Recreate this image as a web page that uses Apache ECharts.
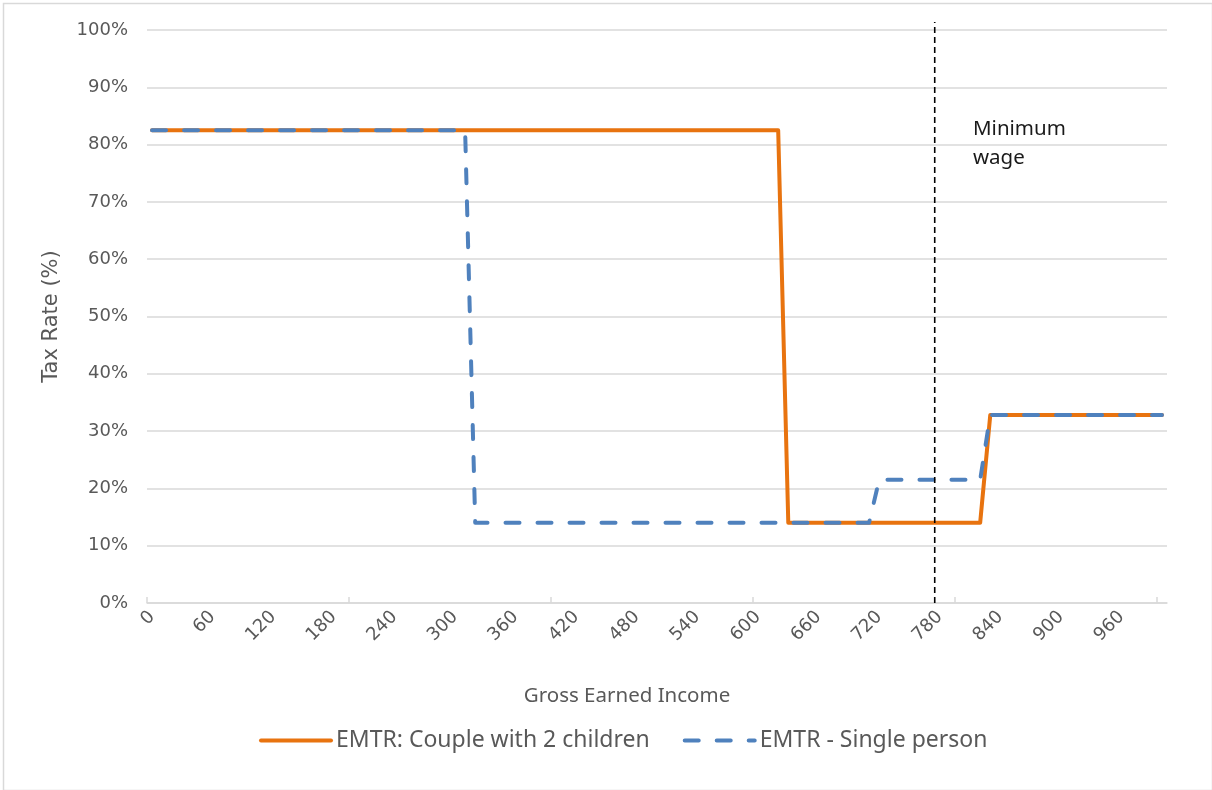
<!DOCTYPE html>
<html>
<head>
<meta charset="utf-8">
<script src="https://cdn.jsdelivr.net/npm/echarts@6/dist/echarts.min.js"></script>
<style>
  html, body { margin: 0; padding: 0; background: #fff; }
  #chart { width: 1212px; height: 790px; }
</style>
</head>
<body>
<div id="chart"></div>
<script>
// Gross earned income breakpoints and effective marginal tax rates (%)
const coupleIncome = [0, 620, 630, 820, 830, 1000];
const coupleRate   = [82.5, 82.5, 14.0, 14.0, 32.8, 32.8];

const singleIncome = [0, 310, 320, 710, 720, 820, 830, 1000];
const singleRate   = [82.5, 82.5, 14.0, 14.0, 21.5, 21.5, 32.8, 32.8];

const minimumWage = 775;

// Axis labelling
const xLabelValues = [0, 60, 120, 180, 240, 300, 360, 420, 480, 540, 600, 660, 720, 780, 840, 900, 960];
const xTickValues  = [-5, 195, 395, 595, 795, 995];

const seriesNames = ['EMTR: Couple with 2 children', 'EMTR - Single person'];

const zip = (xs, ys) => xs.map((x, i) => [x, ys[i]]);

const FONT = 'Noto Sans';
const TICK_FONT = 'DejaVu Sans';
const GREY = '#595959';

const chart = echarts.init(document.getElementById('chart'), null, { renderer: 'canvas' });

chart.setOption({
  animation: false,
  backgroundColor: '#ffffff',
  textStyle: { fontFamily: FONT },
  grid: [
    { left: 147, right: 45, top: 30, bottom: 187 },
    { left: 147, right: 45, top: 22, bottom: 187 }
  ],
  xAxis: [
    {
      type: 'value', gridIndex: 0, min: -5, max: 1005,
      name: 'Gross Earned Income',
      nameLocation: 'middle',
      nameGap: 83,
      nameTextStyle: { color: GREY, fontSize: 20.5, fontFamily: FONT, padding: [0, 60, 0, 0] },
      splitLine: { show: false },
      axisLine: { show: true, onZero: false, lineStyle: { color: '#d9d9d9', width: 1.5 } },
      axisTick: { show: true, inside: true, length: 6, customValues: xTickValues, lineStyle: { color: '#d9d9d9', width: 1.5 } },
      axisLabel: {
        customValues: xLabelValues, rotate: 45, margin: 11,
        color: GREY, fontSize: 18, fontFamily: TICK_FONT
      }
    },
    { type: 'value', gridIndex: 1, min: -5, max: 1005, show: false }
  ],
  yAxis: [
    {
      type: 'value', gridIndex: 0, min: 0, max: 100, interval: 10,
      name: 'Tax Rate (%)',
      nameLocation: 'middle',
      nameGap: 85,
      nameTextStyle: { color: GREY, fontSize: 21, fontFamily: TICK_FONT },
      axisLine: { show: false },
      axisTick: { show: false },
      axisLabel: { formatter: '{value}%', color: GREY, fontSize: 18, fontFamily: TICK_FONT, margin: 19 },
      splitLine: { lineStyle: { color: '#d9d9d9', width: 1.5 } }
    },
    { type: 'value', gridIndex: 1, min: 0, max: 100, show: false }
  ],
  legend: {
    data: seriesNames,
    bottom: 33,
    left: 254,
    itemWidth: 70,
    itemHeight: 14,
    itemGap: 33,
    itemStyle: { opacity: 0 },
    lineStyle: { width: 4, cap: 'round' },
    textStyle: { color: GREY, fontSize: 23, fontFamily: FONT }
  },
  series: [
    {
      name: seriesNames[0],
      type: 'line',
      xAxisIndex: 0, yAxisIndex: 0,
      data: zip(coupleIncome, coupleRate),
      symbol: 'none',
      lineStyle: { color: '#E8730F', width: 4, cap: 'round', join: 'round' },
      itemStyle: { color: '#E8730F' },
      z: 2
    },
    {
      name: seriesNames[1],
      type: 'line',
      xAxisIndex: 0, yAxisIndex: 0,
      data: zip(singleIncome, singleRate),
      symbol: 'none',
      lineStyle: { color: '#4F81BD', width: 4, type: [14, 18], cap: 'round', join: 'round' },
      itemStyle: { color: '#4F81BD' },
      z: 3
    },
    {
      name: 'Minimum wage',
      type: 'line',
      xAxisIndex: 1, yAxisIndex: 1,
      data: [[minimumWage, 0], [minimumWage, 100]],
      symbol: 'none',
      lineStyle: { color: '#000000', width: 1.6, type: [6, 4] },
      z: 4
    }
  ],
  graphic: [
    {
      type: 'rect', left: 1, top: 1, z: -1,
      shape: { width: 1209, height: 787 },
      style: { fill: 'none', stroke: '#d9d9d9', lineWidth: 1.5 }
    },
    {
      type: 'text', left: 973, top: 115,
      style: { text: 'Minimum\nwage', fill: '#1a1a1a', font: '20.5px "Noto Sans"', lineHeight: 29 }
    }
  ]
});
</script>
</body>
</html>
